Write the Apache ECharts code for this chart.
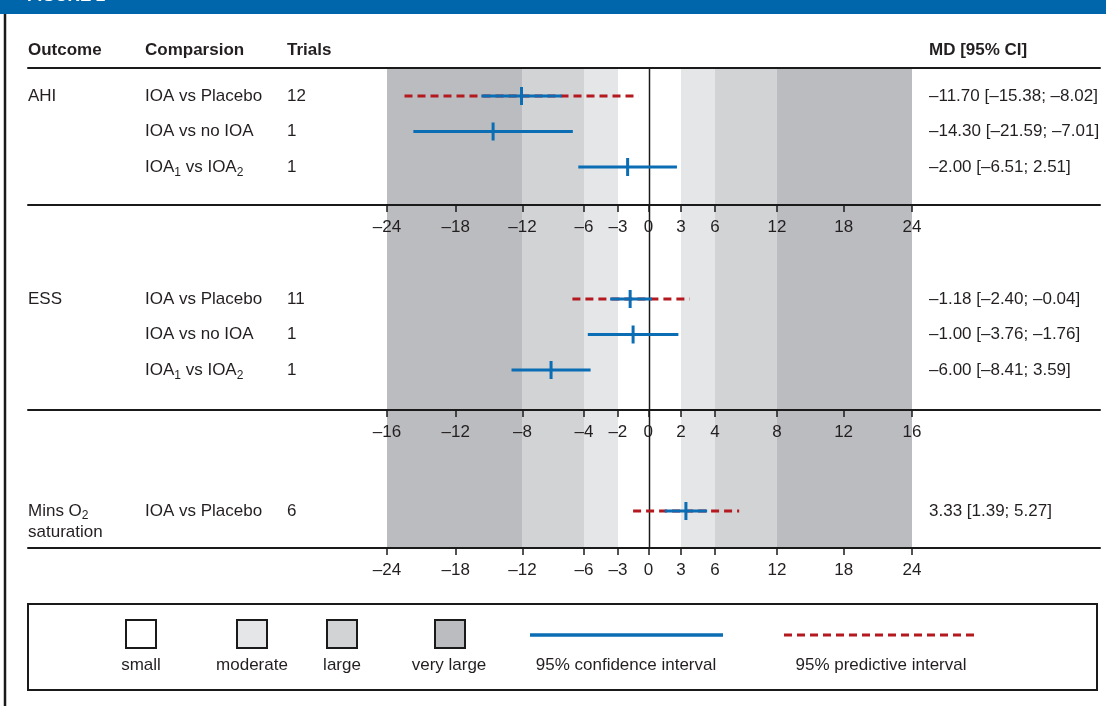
<!DOCTYPE html>
<html>
<head>
<meta charset="utf-8">
<script src="https://cdn.jsdelivr.net/npm/echarts@6/dist/echarts.min.js"></script>
<style>
  html, body { margin: 0; padding: 0; background: #fff; }
  #chart { width: 1106px; height: 706px; }
</style>
</head>
<body>
<div id="chart"></div>
<script>
// table / forest plot data, one entry per panel
var outcomes = ['AHI', 'ESS', 'Mins O₂\nsaturation']
var comparisons = [
    ['IOA vs Placebo', 'IOA vs no IOA', 'IOA₁ vs IOA₂'],
    ['IOA vs Placebo', 'IOA vs no IOA', 'IOA₁ vs IOA₂'],
    ['IOA vs Placebo']
]
var trials = [[12, 1, 1], [11, 1, 1], [6]]
var estimates = [[-11.70, -14.30, -2.00], [-1.18, -1.00, -6.00], [3.33]]
var ciLower = [[-15.38, -21.59, -6.51], [-2.40, -3.76, -8.41], [1.39]]
var ciUpper = [[-8.02, -7.01, 2.51], [0.15, 1.76, -3.59], [5.27]]
var piLower = [[-22.4, null, null], [-4.7, null, null], [-1.5]]
var piUpper = [[-1.0, null, null], [2.45, null, null], [8.2]]
var mdLabels = [
    ['–11.70 [–15.38; –8.02]', '–14.30 [–21.59; –7.01]', '–2.00 [–6.51; 2.51]'],
    ['–1.18 [–2.40; –0.04]', '–1.00 [–3.76; –1.76]', '–6.00 [–8.41; 3.59]'],
    ['3.33 [1.39; 5.27]']
]
// tick labels, and where the figure actually draws them
var tickLabels = [
    [-24, -18, -12, -6, -3, 0, 3, 6, 12, 18, 24],
    [-16, -12, -8, -4, -2, 0, 2, 4, 8, 12, 16],
    [-24, -18, -12, -6, -3, 0, 3, 6, 12, 18, 24]
]
var tickAt = [
    [-24, -17.72, -11.61, -5.99, -2.89, -0.1, 2.88, 5.99, 11.66, 17.75, 24],
    [-16, -11.81, -7.74, -3.99, -1.93, -0.07, 1.92, 3.99, 7.77, 11.83, 16],
    [-24, -17.72, -11.61, -5.99, -2.89, -0.1, 2.88, 5.99, 11.66, 17.75, 24]
]
// shading edges: moderate / large / very large (as drawn)
var bandCuts = [[2.88, 5.99, 11.64, 24], [1.92, 3.99, 7.76, 16], [2.88, 5.99, 11.64, 24]]
var headers = ['Outcome', 'Comparsion', 'Trials', 'MD [95% CI]']
var effectNames = ['small', 'moderate', 'large', 'very large']
var intervalNames = ['95% confidence interval', '95% predictive interval']

// layout + style
var FONT = "'Liberation Sans', Arial, sans-serif"
var TXT = '#231f20'
var BLUE = '#0b6db3'
var RED = '#b3191f'
var bandColors = ['#ffffff', '#e5e6e8', '#d2d3d5', '#bbbcbf']
var L = 28, R = 1100, plotL = 387, plotR = 912
var panelTop = [68, 205, 410]
var panelBottom = [205, 410, 548]
var firstRowY = [96, 299, 511]
var rowPitch = 35.5
var colX = [0, 117, 259, 901]

var chart = echarts.init(document.getElementById('chart'), null, { renderer: 'canvas' })

var grids = [], xAxes = [], tableAxes = [], yAxes = [], series = []

var subs = function (s) { return s.replace(/₁/g, '{s|1}').replace(/₂/g, '{s|2}') }
var tickFormatter = function (p) {
    return function (v) {
        var i = tickAt[p].indexOf(v)
        var t = i >= 0 ? tickLabels[p][i] : v
        return t < 0 ? '–' + Math.abs(t) : String(t)
    }
}

for (var p = 0; p < 3; p++) {
    var lim = tickLabels[p][tickLabels[p].length - 1]
    var ppu = (plotR - plotL) / (2 * lim)
    var h = panelBottom[p] - panelTop[p]
    var yMin = 1 - (firstRowY[p] - panelTop[p]) / rowPitch

    grids.push({
        left: L, top: panelTop[p], width: R - L, height: h,
        containLabel: false, outerBoundsMode: 'none'
    })
    xAxes.push({
        type: 'value', gridIndex: p, position: 'bottom', z: 10,
        min: -lim - (plotL - L) / ppu,
        max: lim + (R - plotR) / ppu,
        splitLine: { show: false },
        axisLine: { show: true, onZero: false, lineStyle: { color: '#1a1a1a', width: 2 } },
        axisTick: { show: true, inside: false, length: 7, customValues: tickAt[p], lineStyle: { color: '#1a1a1a', width: 1.5 } },
        axisLabel: {
            show: true, customValues: tickAt[p], margin: 14,
            color: TXT, fontSize: 17, fontFamily: FONT, formatter: tickFormatter(p)
        }
    })
    tableAxes.push({
        type: 'value', gridIndex: p, position: 'top', min: 0, max: R - L,
        show: p === 0, z: 10,
        splitLine: { show: false },
        axisLine: { show: true, onZero: false, lineStyle: { color: '#1a1a1a', width: 2 } },
        axisTick: { show: false },
        axisLabel: { show: false }
    })
    yAxes.push({
        type: 'value', gridIndex: p, show: false, inverse: true,
        min: yMin, max: yMin + h / rowPitch
    })

    // shaded effect-size bands
    var bands = []
    for (var k = 0; k < 3; k++) {
        bands.push([bandCuts[p][k], bandCuts[p][k + 1], k + 1])
        bands.push([-bandCuts[p][k + 1], -bandCuts[p][k], k + 1])
    }
    series.push({
        type: 'custom', xAxisIndex: p, yAxisIndex: p, z: 1, silent: true,
        data: bands,
        renderItem: function (params, api) {
            var cs = params.coordSys
            var x1 = api.coord([api.value(0), 1])[0]
            var x2 = api.coord([api.value(1), 1])[0]
            return {
                type: 'rect',
                shape: { x: x1, y: cs.y, width: x2 - x1, height: cs.height },
                style: { fill: bandColors[api.value(2)] }
            }
        }
    })
    // zero line
    series.push({
        type: 'custom', xAxisIndex: p, yAxisIndex: p, z: 2, silent: true,
        data: [[0]],
        renderItem: function (params, api) {
            var cs = params.coordSys
            var x = api.coord([api.value(0), 1])[0]
            return {
                type: 'line',
                shape: { x1: x, y1: cs.y, x2: x, y2: cs.y + cs.height },
                style: { stroke: '#1a1a1a', lineWidth: 1.5 }
            }
        }
    })

    var piData = [], ciData = [], textData = []
    for (var r = 0; r < estimates[p].length; r++) {
        if (piLower[p][r] != null) piData.push([piLower[p][r], r + 1, piUpper[p][r]])
        ciData.push([estimates[p][r], r + 1, ciLower[p][r], ciUpper[p][r]])
        if (r === 0) {
            var oItem = { value: [colX[0], r + 1], text: subs(outcomes[p]) }
            if (outcomes[p].indexOf('\n') >= 0) oItem.label = { lineHeight: 21, offset: [0, 10.5] }
            textData.push(oItem)
        }
        textData.push({ value: [colX[1], r + 1], text: subs(comparisons[p][r]) })
        textData.push({ value: [colX[2], r + 1], text: String(trials[p][r]) })
        textData.push({ value: [colX[3], r + 1], text: mdLabels[p][r] })
    }
    // predictive intervals
    series.push({
        type: 'custom', xAxisIndex: p, yAxisIndex: p, z: 3, silent: true,
        data: piData,
        renderItem: function (params, api) {
            var a = api.coord([api.value(0), api.value(1)])
            var b = api.coord([api.value(2), api.value(1)])
            return {
                type: 'line',
                shape: { x1: a[0], y1: a[1], x2: b[0], y2: b[1] },
                style: { stroke: RED, lineWidth: 3, lineDash: [8, 5] }
            }
        }
    })
    // confidence intervals + point estimate tick
    series.push({
        type: 'custom', xAxisIndex: p, yAxisIndex: p, z: 4, silent: true,
        data: ciData,
        renderItem: function (params, api) {
            var y = api.value(1)
            var a = api.coord([api.value(2), y])
            var b = api.coord([api.value(3), y])
            var c = api.coord([api.value(0), y])
            return {
                type: 'group',
                children: [
                    { type: 'line', shape: { x1: a[0], y1: a[1], x2: b[0], y2: b[1] }, style: { stroke: BLUE, lineWidth: 3 } },
                    { type: 'line', shape: { x1: c[0], y1: c[1] - 9, x2: c[0], y2: c[1] + 9 }, style: { stroke: BLUE, lineWidth: 3 } }
                ]
            }
        }
    })
    // table text
    series.push({
        type: 'scatter', xAxisIndex: 3 + p, yAxisIndex: p, z: 5, silent: true,
        symbolSize: 0, data: textData,
        itemStyle: { opacity: 1 },
        label: {
            show: true, position: 'right', distance: 0, opacity: 1,
            color: TXT, fontSize: 17, fontFamily: FONT, lineHeight: 24,
            formatter: function (q) { return q.data.text },
            rich: { s: { fontSize: 12, fontFamily: FONT, color: TXT, verticalAlign: 'bottom' } }
        }
    })
}

// legend + frame drawn as graphics
var graphics = [
    { type: 'rect', shape: { x: 0, y: 0, width: 1106, height: 14 }, style: { fill: '#0066ab' } },
    { type: 'text', style: { x: 27, y: 5, text: 'FIGURE 2', fill: '#fff', font: 'bold 17px ' + FONT, verticalAlign: 'bottom' } },
    { type: 'line', shape: { x1: 5, y1: 14, x2: 5, y2: 706 }, style: { stroke: '#1a1a1a', lineWidth: 2.5 } },
    { type: 'rect', shape: { x: L, y: 604, width: 1069, height: 86 }, style: { fill: 'none', stroke: '#1a1a1a', lineWidth: 2 } }
]
headers.forEach(function (hd, i) {
    graphics.push({ type: 'text', style: { x: L + colX[i], y: 50, text: hd, fill: TXT, font: 'bold 17px ' + FONT, verticalAlign: 'middle' } })
})
var swatchX = [126, 237, 327, 435]
var swatchLabelX = [141, 252, 342, 449]
effectNames.forEach(function (nm, i) {
    graphics.push({ type: 'rect', shape: { x: swatchX[i], y: 620, width: 30, height: 28 }, style: { fill: bandColors[i], stroke: '#1a1a1a', lineWidth: 2 } })
    graphics.push({ type: 'text', style: { x: swatchLabelX[i], y: 665, text: nm, fill: TXT, font: '17px ' + FONT, align: 'center', verticalAlign: 'middle' } })
})
graphics.push({ type: 'line', shape: { x1: 530, y1: 635, x2: 723, y2: 635 }, style: { stroke: BLUE, lineWidth: 3.5 } })
graphics.push({ type: 'line', shape: { x1: 784, y1: 635, x2: 978, y2: 635 }, style: { stroke: RED, lineWidth: 3, lineDash: [8, 5] } })
graphics.push({ type: 'text', style: { x: 626, y: 665, text: intervalNames[0], fill: TXT, font: '17px ' + FONT, align: 'center', verticalAlign: 'middle' } })
graphics.push({ type: 'text', style: { x: 881, y: 665, text: intervalNames[1], fill: TXT, font: '17px ' + FONT, align: 'center', verticalAlign: 'middle' } })

var option = {
    animation: false,
    backgroundColor: '#fff',
    grid: grids,
    xAxis: xAxes.concat(tableAxes),
    yAxis: yAxes,
    series: series,
    graphic: graphics
}
chart.setOption(option)
</script>
</body>
</html>
